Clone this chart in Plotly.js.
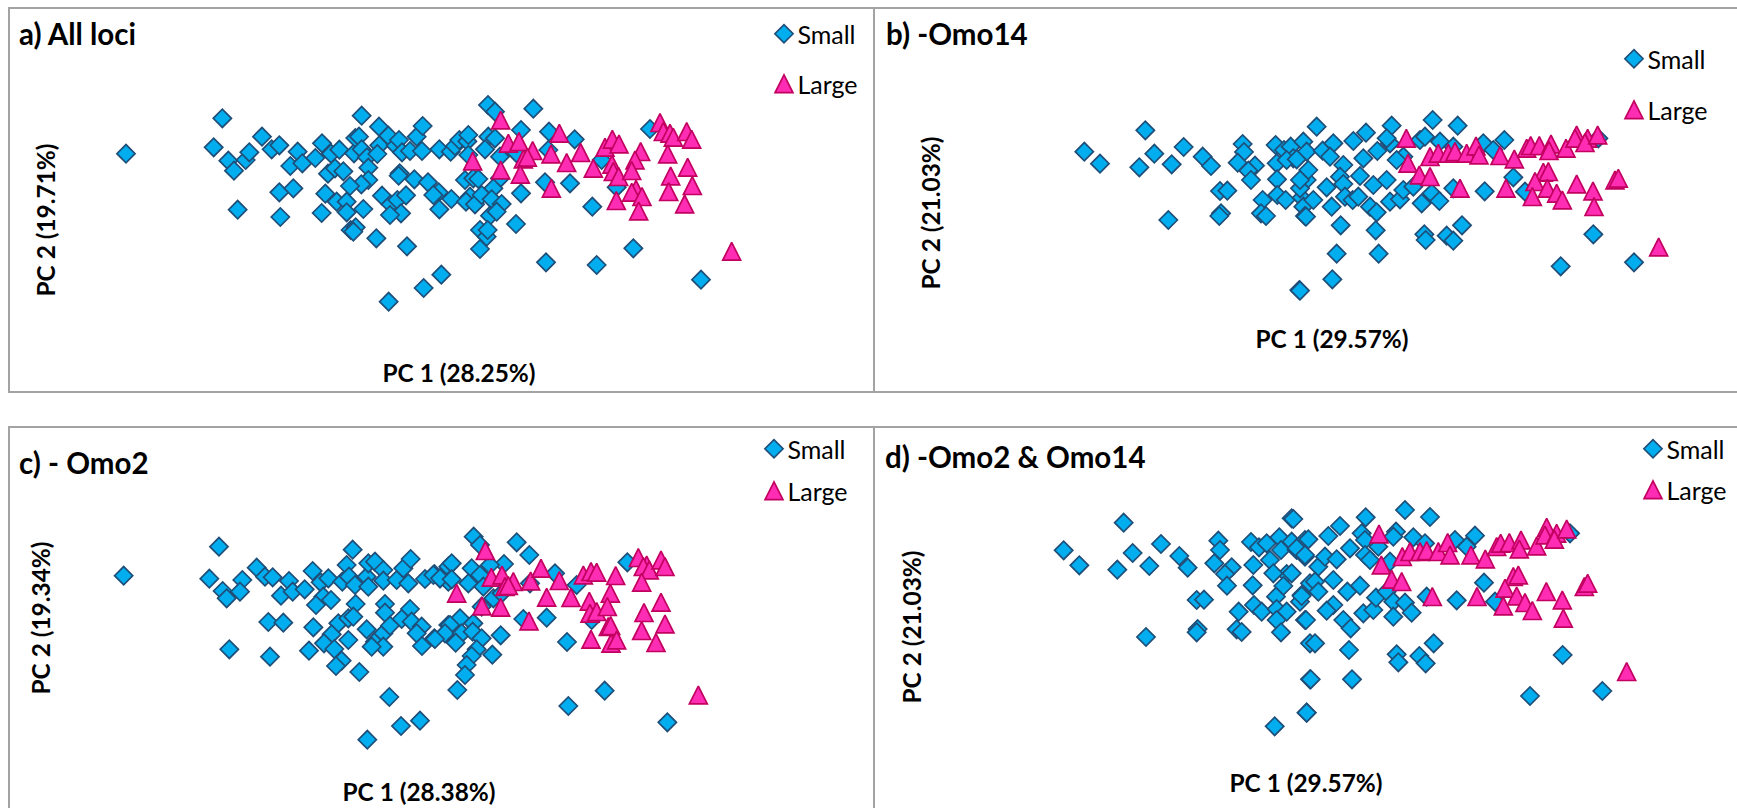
<!DOCTYPE html>
<html><head><meta charset="utf-8">
<script src="https://cdn.plot.ly/plotly-3.0.1.min.js"></script>
<style>html,body{margin:0;padding:0;background:#fff}#chart{width:1737px;height:808px}</style>
</head><body><div id="chart"></div>
<script>
// Readings in picture units (no axis scale is printed on the original).
const aSmall=[[378,461],[667,355],[641,442],[786,410],[815,448],[838,436],[685,482],[702,512],[737,480],[748,457],[893,455],[871,498],[907,490],[946,474],[966,430],[993,461],[1018,449],[984,521],[1005,505],[1030,514],[1062,460],[1066,414],[1085,347],[1077,410],[1085,448],[1101,472],[1105,503],[1137,380],[1138,436],[1132,462],[1165,407],[1187,437],[1197,420],[1206,457],[1230,453],[1250,410],[1268,378],[1266,453],[1318,448],[1352,455],[1365,438],[1378,420],[1402,424],[1405,405],[1199,520],[1196,527],[1243,538],[1284,547],[1316,577],[1300,585],[1354,597],[1318,628],[1395,540],[1420,535],[1410,590],[1398,605],[1425,613],[1105,540],[1084,553],[1050,558],[976,581],[1010,605],[1040,605],[1090,627],[1040,637],[965,639],[1146,587],[1172,613],[1192,600],[1218,586],[1203,640],[1170,645],[838,577],[880,565],[713,629],[841,651],[1052,690],[1067,682],[1060,695],[1129,715],[1221,739],[1324,824],[1271,864],[1166,905],[1440,747],[1440,690],[1464,315],[1485,335],[1600,326],[1563,390],[1647,395],[1724,418],[1950,387],[1465,410],[1485,415],[1455,448],[1405,465],[1500,470],[1645,450],[1550,460],[1805,480],[1435,537],[1500,535],[1480,565],[1563,580],[1635,547],[1710,550],[1850,562],[1445,585],[1475,598],[1505,612],[1470,647],[1490,635],[1548,672],[1777,620],[1460,710],[1463,690],[1638,787],[1790,795],[1900,745],[2103,839]];
const aLarge=[[1502,360],[1525,430],[1557,425],[1678,400],[1598,452],[1653,462],[1570,477],[1582,472],[1418,483],[1502,510],[1561,523],[1700,488],[1742,458],[1780,505],[1654,565],[1815,442],[1837,418],[1857,432],[1836,493],[1840,515],[1856,530],[1922,455],[1905,480],[1895,512],[1980,368],[1990,395],[2010,400],[2020,412],[2060,395],[2075,418],[2003,462],[2063,502],[2012,528],[2077,557],[2006,575],[2054,612],[1908,568],[1895,577],[1926,590],[1849,602],[1916,633],[2195,754]];

const bSmall=[[3253,455],[3300,491],[3418,502],[3436,391],[3463,461],[3515,493],[3551,441],[3608,470],[3633,498],[3728,432],[3732,456],[3713,488],[3765,497],[3745,512],[3753,540],[3660,573],[3682,572],[3663,640],[3658,648],[3505,660],[3788,600],[3783,640],[3798,648],[3827,435],[3852,450],[3872,440],[3830,490],[3880,475],[3910,425],[3920,455],[3831,538],[3832,585],[3857,600],[3905,593],[3920,540],[3900,565],[3910,620],[3915,648],[3860,480],[3898,870],[3950,380],[3890,478],[3925,510],[3900,540],[3940,600],[3980,562],[3995,620],[3918,650],[3968,452],[4000,430],[3990,470],[4030,495],[4060,423],[4098,398],[4090,475],[4080,528],[4020,530],[4030,552],[4035,590],[4058,600],[4075,590],[4120,555],[4110,620],[4130,637],[4132,453],[4175,377],[4170,430],[4160,415],[4160,540],[4210,470],[4190,480],[4170,605],[4200,598],[4210,570],[4240,560],[4265,610],[4295,580],[4318,603],[4260,420],[4275,410],[4298,360],[4373,377],[4320,425],[4360,440],[4022,676],[4127,691],[4010,761],[4136,761],[3997,838],[3900,872],[4273,703],[4277,720],[4340,707],[4360,722],[4386,676],[4360,565],[4454,574],[4450,430],[4513,420],[4480,450],[4540,532],[4575,575],[4780,703],[4682,799],[4902,787],[4795,415]];
const bLarge=[[4219,415],[4224,490],[4258,525],[4290,530],[4290,470],[4315,460],[4345,460],[4365,455],[4400,460],[4428,438],[4437,465],[4500,467],[4543,477],[4580,445],[4592,437],[4618,437],[4653,432],[4647,452],[4698,445],[4730,405],[4725,415],[4763,415],[4755,428],[4793,405],[4630,517],[4645,515],[4605,545],[4642,565],[4670,580],[4597,590],[4687,600],[4518,565],[4380,565],[4730,552],[4779,573],[4782,620],[4845,540],[4855,535],[4976,741]];

const cSmall=[[371,1727],[657,1640],[628,1736],[668,1773],[680,1795],[727,1740],[720,1775],[770,1703],[795,1730],[818,1732],[867,1743],[843,1787],[878,1775],[914,1768],[938,1713],[962,1747],[985,1735],[970,1790],[948,1815],[993,1800],[1027,1745],[1040,1695],[1047,1730],[1058,1649],[1065,1755],[1100,1730],[1105,1690],[1125,1685],[1105,1760],[1150,1710],[1150,1742],[1190,1740],[1210,1705],[1232,1677],[1225,1750],[1275,1737],[1303,1722],[1320,1735],[1345,1700],[1345,1745],[1067,1812],[1155,1812],[1155,1838],[1230,1827],[1205,1857],[1235,1865],[1265,1880],[1250,1900],[1303,1915],[1266,1938],[1345,1875],[1340,1900],[805,1866],[850,1868],[940,1882],[1015,1870],[1045,1855],[1060,1850],[995,1903],[972,1930],[1003,1947],[1045,1920],[927,1952],[688,1948],[810,1970],[1100,1888],[1125,1925],[1150,1900],[1170,1877],[1150,1940],[1115,1940],[1025,1982],[1008,1998],[1078,2016],[1168,2091],[1203,2178],[1260,2162],[1102,2219],[1421,1610],[1440,1635],[1550,1627],[1588,1665],[1355,1690],[1512,1692],[1665,1720],[1882,1687],[1415,1705],[1440,1725],[1470,1695],[1300,1725],[1320,1735],[1355,1738],[1405,1750],[1450,1760],[1480,1795],[1505,1780],[1590,1750],[1730,1755],[1445,1820],[1570,1857],[1640,1853],[1775,1860],[1380,1855],[1350,1875],[1420,1870],[1335,1900],[1385,1900],[1418,1895],[1445,1915],[1502,1906],[1367,1928],[1305,1917],[1430,1948],[1415,1968],[1477,1964],[1400,1995],[1395,2025],[1372,2070],[1701,1926],[1705,2118],[1814,2072],[2002,2167]];
const cLarge=[[1456,1652],[1474,1732],[1506,1725],[1540,1745],[1515,1760],[1525,1757],[1592,1743],[1623,1705],[1678,1742],[1370,1780],[1446,1818],[1502,1822],[1640,1792],[1713,1793],[1587,1863],[1750,1725],[1773,1715],[1790,1717],[1847,1727],[1831,1780],[1768,1804],[1770,1840],[1790,1835],[1822,1820],[1825,1880],[1832,1877],[1773,1918],[1833,1930],[1850,1920],[1915,1673],[1940,1695],[1930,1700],[1948,1710],[1983,1680],[1995,1700],[1925,1747],[1983,1807],[1932,1838],[1995,1872],[1925,1892],[1968,1928],[2095,2085]];

const dSmall=[[3191,1651],[3238,1696],[3352,1709],[3371,1568],[3398,1659],[3448,1698],[3483,1632],[3538,1668],[3563,1703],[3655,1622],[3660,1650],[3643,1690],[3695,1702],[3675,1722],[3681,1757],[3590,1800],[3612,1799],[3593,1887],[3590,1897],[3438,1911],[3716,1835],[3710,1888],[3725,1896],[3753,1626],[3777,1642],[3800,1630],[3760,1695],[3810,1680],[3838,1612],[3843,1650],[3875,1555],[3875,1625],[3890,1650],[3915,1620],[3915,1670],[3860,1722],[3820,1720],[3758,1756],[3850,1758],[3828,1790],[3905,1785],[3900,1805],[3762,1815],[3785,1835],[3830,1827],[3860,1835],[3830,1860],[3843,1897],[3915,1860],[3930,1930],[3930,2038],[3920,2138],[3824,2179],[3930,1750],[3880,1557],[3925,1618],[3890,1645],[3915,1665],[3875,1720],[3955,1700],[3975,1670],[3985,1608],[4020,1578],[4010,1678],[4050,1645],[4097,1552],[4085,1600],[4095,1620],[4095,1665],[4110,1680],[4000,1740],[3945,1745],[3955,1775],[3905,1788],[4042,1775],[4080,1757],[4000,1815],[3980,1832],[3918,1860],[4030,1860],[4052,1885],[4090,1840],[4120,1830],[4128,1793],[4160,1775],[4180,1805],[4180,1850],[4215,1808],[4235,1838],[4215,1530],[4290,1551],[4188,1595],[4180,1610],[4240,1612],[4135,1640],[4170,1685],[4275,1630],[4365,1620],[4425,1607],[4400,1640],[3945,1930],[4047,1950],[3932,2038],[4056,2038],[3920,2138],[4190,1963],[4195,1987],[4258,1968],[4277,1990],[4301,1930],[4280,1790],[4370,1801],[4452,1748],[4485,1805],[4688,1965],[4590,2088],[4807,2073],[4710,1600]];
const dLarge=[[4137,1602],[4144,1695],[4175,1738],[4205,1745],[4207,1670],[4230,1655],[4260,1655],[4280,1652],[4315,1655],[4343,1628],[4350,1665],[4413,1665],[4456,1677],[4490,1640],[4502,1630],[4528,1628],[4563,1620],[4558,1647],[4610,1638],[4640,1582],[4635,1605],[4670,1600],[4663,1618],[4700,1587],[4540,1730],[4555,1725],[4515,1765],[4550,1788],[4575,1808],[4510,1818],[4597,1832],[4431,1790],[4297,1790],[4639,1775],[4687,1800],[4690,1855],[4753,1760],[4763,1750],[4880,2015]];

const panelNames=['a) All loci','b) -Omo14','c) - Omo2','d) -Omo2 & Omo14'];
const pc1Titles=['PC 1 (28.25%)','PC 1 (29.57%)','PC 1 (28.38%)','PC 1 (29.57%)'];
const pc2Titles=['PC 2 (19.71%)','PC 2 (21.03%)','PC 2 (19.34%)','PC 2 (21.03%)'];
const seriesNames=['Small','Large'];

const W=1737,H=808,U=3; // one picture unit is a third of a pixel
const panels=[
 {small:aSmall,large:aLarge,box:[9,8,874,392],  plot:[100,90,818,350],  pc1:378,pc2:50, nm:[18,33],  leg:[784,33,85]},
 {small:bSmall,large:bLarge,box:[874,8,1760,392],plot:[960,108,1704,318],pc1:344,pc2:935,nm:[885,33], leg:[1634,58,111]},
 {small:cSmall,large:cLarge,box:[9,427,874,830],plot:[70,465,768,771],  pc1:797,pc2:45, nm:[18,463], leg:[774,448,492]},
 {small:dSmall,large:dLarge,box:[874,427,1760,830],plot:[940,492,1672,762],pc1:788,pc2:916,nm:[884,457],leg:[1653,448,491]}
];
const FONT='Lato, "Open Sans", sans-serif';
const px=v=>v/W, py=v=>1-v/H;
const traces=[],layout={width:W,height:H,margin:{l:0,r:0,t:0,b:0,pad:0},paper_bgcolor:'#fff',plot_bgcolor:'rgba(0,0,0,0)',
  showlegend:true,shapes:[],annotations:[],font:{family:FONT,color:'#000'}};

panels.forEach((p,i)=>{
  const k=i===0?'':String(i+1);
  const [l,t,r,b]=p.plot;
  traces.push({type:'scatter',mode:'markers',name:seriesNames[0],xaxis:'x'+k,yaxis:'y'+k,legend:'legend'+k,legendgroup:'s'+i,cliponaxis:false,
    x:p.small.map(d=>d[0]),y:p.small.map(d=>d[1]),
    marker:{symbol:'diamond',size:14,color:'#00AEEF',line:{color:'#1F4E79',width:1.7}}});
  traces.push({type:'scatter',mode:'markers',name:seriesNames[1],xaxis:'x'+k,yaxis:'y'+k,legend:'legend'+k,legendgroup:'l'+i,cliponaxis:false,
    x:p.large.map(d=>d[0]),y:p.large.map(d=>d[1]),
    marker:{symbol:'triangle-up',size:15.5,color:'#FF2DB4',line:{color:'#C2005F',width:1.7}}});
  layout['xaxis'+k]={domain:[px(l),px(r)],range:[l*U,r*U],anchor:'y'+k,showgrid:false,zeroline:false,showline:false,showticklabels:false,ticks:'',
    title:{text:pc1Titles[i],font:{family:FONT,size:24.4,color:'#000',weight:700},standoff:p.pc1-b-14}};
  layout['yaxis'+k]={domain:[py(b),py(t)],range:[b*U,t*U],anchor:'x'+k,showgrid:false,zeroline:false,showline:false,showticklabels:false,ticks:'',
    title:{text:pc2Titles[i],font:{family:FONT,size:24.4,color:'#000',weight:700},standoff:l-p.pc2-14}};
  layout['legend'+k]={x:px(p.leg[0]-26.6),y:py(p.leg[1]-22),xanchor:'left',yanchor:'top',bgcolor:'rgba(0,0,0,0)',borderwidth:0,
    font:{family:FONT,size:25,color:'#000'},traceorder:'grouped',tracegroupgap:(p.leg[2]-p.leg[1])-37.5,itemclick:false,itemdoubleclick:false};
  layout.shapes.push({type:'rect',xref:'paper',yref:'paper',x0:px(p.box[0]),x1:px(p.box[2]),y0:py(p.box[3]),y1:py(p.box[1]),
    line:{color:'#A3A3A3',width:2},fillcolor:'rgba(0,0,0,0)',layer:'below'});
  layout.annotations.push({xref:'paper',yref:'paper',x:px(p.nm[0]),y:py(p.nm[1]),xanchor:'left',yanchor:'middle',showarrow:false,
    text:'<b>'+panelNames[i]+'</b>',font:{family:FONT,size:29.5,color:'#000'},borderpad:0});
});

// The reference's triangles are as tall as they are wide, taller than Plotly's: stretch the drawn markers.
function restyleMarkers(){
  document.querySelectorAll('#chart path.point, #chart path.scatterpts').forEach(el=>{
    const d=el.getAttribute('d')||'';
    const inLegend=el.classList.contains('scatterpts');
    let t=el.getAttribute('transform')||'';
    if(inLegend) t+=' translate(6.6,0)';
    if(d.indexOf('H')>=0){
      t+=' translate(0,2.9) scale(1,1.53)';
      el.style.vectorEffect='non-scaling-stroke';
    }
    el.setAttribute('transform',t);
  });
}
Plotly.newPlot('chart',traces,layout,{displayModeBar:false}).then(restyleMarkers);
</script></body></html>
